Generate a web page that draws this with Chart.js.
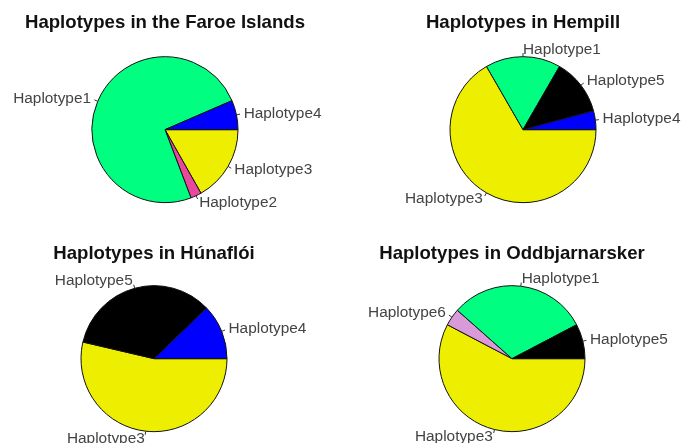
<!DOCTYPE html>
<html lang="en">
<head>
  <meta charset="UTF-8">
  <title>Haplotypes</title>
  <script src="https://cdn.jsdelivr.net/npm/chart.js"></script>
  <style>
    html, body { margin: 0; padding: 0; background: #fff; overflow: hidden; }
    body { width: 689px; height: 443px; position: relative; }
    .pane { position: absolute; }
  </style>
</head>
<body>

  <canvas id="faroe" class="pane" width="340" height="221" style="left:-5px; top:0px;"></canvas>
  <canvas id="hempill" class="pane" width="340" height="221" style="left:353px; top:0px;"></canvas>
  <canvas id="huna" class="pane" width="340" height="222" style="left:-16px; top:221px;"></canvas>
  <canvas id="odd" class="pane" width="340" height="222" style="left:342px; top:221px;"></canvas>

  <script>
    // slices listed clockwise starting at 3 o'clock (same look as R's pie)
    const faroeLabels = ['Haplotype3', 'Haplotype2', 'Haplotype1', 'Haplotype4'];
    const faroeValues = [16.8, 2.4, 74.3, 6.5];

    const hempillLabels = ['Haplotype3', 'Haplotype1', 'Haplotype5', 'Haplotype4'];
    const hempillValues = [16, 4, 3, 1];

    const hunaLabels = ['Haplotype3', 'Haplotype5', 'Haplotype4'];
    const hunaValues = [22, 14, 5];

    const oddLabels = ['Haplotype3', 'Haplotype6', 'Haplotype1', 'Haplotype5'];
    const oddValues = [15, 1, 8, 2];

    const hapColors = {
      Haplotype1: '#00FF80',
      Haplotype2: '#E8489B',
      Haplotype3: '#EEEE00',
      Haplotype4: '#0000FF',
      Haplotype5: '#000000',
      Haplotype6: '#DA9ADA'
    };

    // R style labels: short tick from r to 1.05r, text at 1.1r
    const sliceLabels = {
      id: 'sliceLabels',
      afterDatasetsDraw(chart) {
        const ctx = chart.ctx;
        const meta = chart.getDatasetMeta(0);
        ctx.save();
        ctx.font = '15.4px "Liberation Sans", Arial, sans-serif';
        ctx.fillStyle = '#444';
        ctx.strokeStyle = '#333';
        ctx.lineWidth = 1;
        ctx.textBaseline = 'middle';
        meta.data.forEach((arc, i) => {
          const p = arc.getProps(['x', 'y', 'startAngle', 'endAngle', 'outerRadius'], true);
          const mid = (p.startAngle + p.endAngle) / 2;
          const c = Math.cos(mid), s = Math.sin(mid);
          const r = p.outerRadius;
          ctx.beginPath();
          ctx.moveTo(p.x + c * r, p.y + s * r);
          ctx.lineTo(p.x + c * r * 1.05, p.y + s * r * 1.05);
          ctx.stroke();
          // straight up counts as right side, like R does
          ctx.textAlign = c < -1e-6 ? 'right' : 'left';
          ctx.fillText(chart.data.labels[i], p.x + c * r * 1.1, p.y + s * r * 1.1);
        });
        ctx.restore();
      }
    };

    function makePie(id, title, labels, values, titleTop, titleBottom) {
      new Chart(document.getElementById(id), {
        type: 'pie',
        data: {
          labels: labels,
          datasets: [{
            data: values,
            backgroundColor: labels.map(l => hapColors[l]),
            borderColor: '#111',
            borderWidth: 1
          }]
        },
        options: {
          responsive: false,
          animation: false,
          rotation: 90,
          radius: 73,
          layout: { padding: 0 },
          plugins: {
            legend: { display: false },
            tooltip: { enabled: false },
            title: {
              display: true,
              text: title,
              color: '#111',
              font: { family: '"Liberation Sans", Arial, sans-serif', size: 18.6, weight: 'bold', lineHeight: 1.2 },
              padding: { top: titleTop, bottom: titleBottom }
            }
          }
        },
        plugins: [sliceLabels]
      });
    }

    makePie('faroe', 'Haplotypes in the Faroe Islands', faroeLabels, faroeValues, 11.5, 4.5);
    makePie('hempill', 'Haplotypes in Hempill', hempillLabels, hempillValues, 11.5, 4.5);
    makePie('huna', 'Haplotypes in Húnaflói', hunaLabels, hunaValues, 22, 9);
    makePie('odd', 'Haplotypes in Oddbjarnarsker', oddLabels, oddValues, 22, 9);
  </script>
</body>
</html>
